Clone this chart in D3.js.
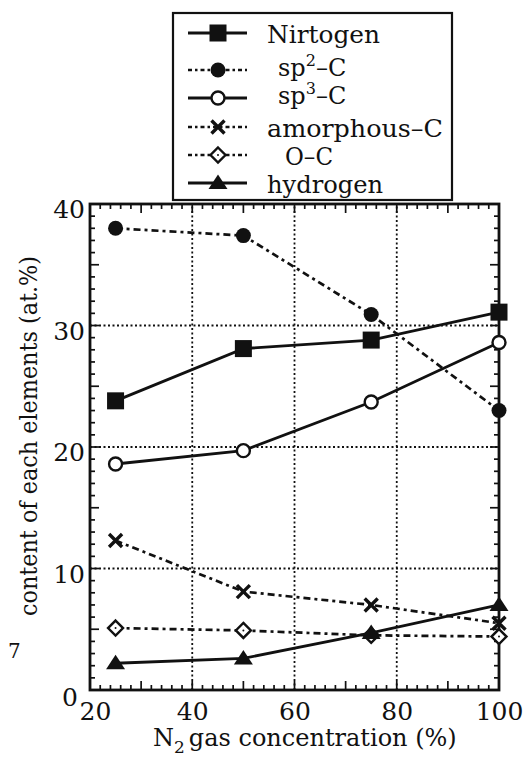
<!DOCTYPE html>
<html>
<head>
<meta charset="utf-8">
<script src="https://cdn.jsdelivr.net/npm/d3@7"></script>
<style>
  body { margin: 0; background: #fff; }
  svg text { font-family: "DejaVu Serif", "Liberation Serif", "Noto Serif", Times, serif; fill: #111; }
</style>
</head>
<body>
<svg id="chart" width="526" height="758"></svg>
<script>
// data
let conc = [25, 50, 75, 100];
let nitrogen = [23.8, 28.1, 28.8, 31.1];
let sp2C = [38.0, 37.4, 30.9, 23.0];
let sp3C = [18.6, 19.7, 23.7, 28.6];
let amorphousC = [12.3, 8.1, 7.0, 5.5];
let oC = [5.1, 4.9, 4.5, 4.4];
let hydrogen = [2.2, 2.6, 4.7, 7.0];

let seriesNames = ["Nirtogen", "sp2-C", "sp3-C", "amorphous-C", "O-C", "hydrogen"];
let seriesValues = [nitrogen, sp2C, sp3C, amorphousC, oC, hydrogen];
let seriesMarks = ["square", "dot", "circle", "cross", "diamond", "triangle"];
let seriesDashed = [false, true, false, true, true, false];

let xTicks = [20, 40, 60, 80, 100];
let yTicks = [0, 10, 20, 30, 40];

var svg = d3.select("#chart");

var x = d3.scaleLinear().domain([20, 100]).range([90, 499]);
var y = d3.scaleLinear().domain([0, 40]).range([690, 204]);

var dashDot = "7,4,3,4";
var serif = "DejaVu Serif, Liberation Serif, Noto Serif, serif";

// grid (dotted)
var grid = svg.append("g").attr("class", "grid");
grid.selectAll("line.gx")
    .data([40, 60, 80])
    .enter().append("line")
    .attr("x1", d => x(d)).attr("x2", d => x(d))
    .attr("y1", y(0)).attr("y2", y(40))
    .attr("stroke", "#111").attr("stroke-width", 1.8)
    .attr("stroke-dasharray", "2,2.5");
grid.selectAll("line.gy")
    .data([10, 20, 30])
    .enter().append("line")
    .attr("x1", x(20)).attr("x2", x(100))
    .attr("y1", d => y(d)).attr("y2", d => y(d))
    .attr("stroke", "#111").attr("stroke-width", 1.8)
    .attr("stroke-dasharray", "2,2.5");

// minor ticks, all four sides, pointing inward
let xMinor = d3.range(22, 100, 2);
let yMinor = d3.range(1, 40, 1);
function xLen(d){ return d % 10 === 0 ? 9 : 5; }
function yLen(d){ return d % 5 === 0 ? 9 : 5; }

var ticks = svg.append("g").attr("stroke", "#111").attr("stroke-width", 1.7);
ticks.selectAll("line.b").data(xMinor).enter().append("line")
    .attr("x1", d => x(d)).attr("x2", d => x(d))
    .attr("y1", y(0)).attr("y2", d => y(0) - xLen(d));
ticks.selectAll("line.t").data(xMinor).enter().append("line")
    .attr("x1", d => x(d)).attr("x2", d => x(d))
    .attr("y1", y(40)).attr("y2", d => y(40) + xLen(d));
ticks.selectAll("line.l").data(yMinor).enter().append("line")
    .attr("y1", d => y(d)).attr("y2", d => y(d))
    .attr("x1", x(20)).attr("x2", d => x(20) + yLen(d));
ticks.selectAll("line.r").data(yMinor).enter().append("line")
    .attr("y1", d => y(d)).attr("y2", d => y(d))
    .attr("x1", x(100)).attr("x2", d => x(100) - yLen(d));

// frame
svg.append("rect")
    .attr("x", x(20)).attr("y", y(40))
    .attr("width", x(100) - x(20)).attr("height", y(0) - y(40))
    .attr("fill", "none").attr("stroke", "#111").attr("stroke-width", 2.8);

// tick labels via axes
var xAxis = svg.append("g")
    .attr("transform", "translate(0," + y(0) + ")")
    .call(d3.axisBottom(x).tickValues(xTicks).tickSize(0).tickPadding(0));
xAxis.select(".domain").remove();
xAxis.selectAll("text").attr("font-size", 25).attr("dy", null)
    .attr("font-family", serif).attr("fill", "#111")
    .attr("y", 30)
    .attr("x", d => d === 20 ? 5 : 0);

var yAxis = svg.append("g")
    .attr("transform", "translate(" + x(20) + ",0)")
    .call(d3.axisLeft(y).tickValues(yTicks).tickSize(0).tickPadding(5));
yAxis.select(".domain").remove();
yAxis.selectAll("text").attr("font-size", 25)
    .attr("font-family", serif).attr("fill", "#111")
    .attr("dy", d => d === 0 ? "0.62em" : "0.55em")
    .attr("x", d => d === 0 ? -12 : -5);

// axis titles
var xt = svg.append("text")
    .attr("x", 153).attr("y", 746)
    .attr("font-size", 24);
xt.append("tspan").text("N");
xt.append("tspan").attr("font-size", 17).attr("dy", 7).text("2");
xt.append("tspan").attr("dy", -7).attr("dx", 4).text("gas concentration (%)");

svg.append("text")
    .attr("transform", "translate(37,436) rotate(-90)")
    .attr("text-anchor", "middle")
    .attr("font-size", 24)
    .attr("textLength", 360)
    .attr("lengthAdjust", "spacingAndGlyphs")
    .text("content of each elements (at.%)");

svg.append("text")
    .attr("x", 8).attr("y", 658)
    .attr("font-size", 20)
    .text("7");

// markers
function drawMark(g, kind, cx, cy) {
    if (kind === "square") {
        g.append("rect").attr("x", cx - 8.5).attr("y", cy - 8.5).attr("width", 17).attr("height", 17)
            .attr("fill", "#111");
    } else if (kind === "dot") {
        g.append("circle").attr("cx", cx).attr("cy", cy).attr("r", 7.5).attr("fill", "#111");
    } else if (kind === "circle") {
        g.append("circle").attr("cx", cx).attr("cy", cy).attr("r", 6.5)
            .attr("fill", "#fff").attr("stroke", "#111").attr("stroke-width", 2.4);
    } else if (kind === "cross") {
        g.append("path").attr("d", `M${cx-6.5},${cy-6.5}L${cx+6.5},${cy+6.5}M${cx-6.5},${cy+6.5}L${cx+6.5},${cy-6.5}`)
            .attr("stroke", "#111").attr("stroke-width", 3.4).attr("fill", "none");
    } else if (kind === "diamond") {
        g.append("path").attr("d", `M${cx},${cy-7.5}L${cx+7.5},${cy}L${cx},${cy+7.5}L${cx-7.5},${cy}Z`)
            .attr("fill", "#fff").attr("stroke", "#111").attr("stroke-width", 2.4);
        g.append("circle").attr("cx", cx).attr("cy", cy).attr("r", 1).attr("fill", "#111");
    } else if (kind === "triangle") {
        g.append("path").attr("d", `M${cx},${cy-8.5}L${cx+9.5},${cy+6}L${cx-9.5},${cy+6}Z`)
            .attr("fill", "#111");
    }
}

var line = d3.line().x(d => x(d[0])).y(d => y(d[1]));

// dashed series first, solid ones on top
let order = [1, 3, 4, 0, 2, 5];
order.forEach(function(i){
    let pts = conc.map((c, j) => [c, seriesValues[i][j]]);
    let g = svg.append("g").attr("class", "series");
    g.append("path")
        .attr("d", line(pts))
        .attr("fill", "none")
        .attr("stroke", "#111")
        .attr("stroke-width", seriesDashed[i] ? 2.7 : 2.8)
        .attr("stroke-dasharray", seriesDashed[i] ? dashDot : null);
    pts.forEach(p => drawMark(g, seriesMarks[i], x(p[0]), y(p[1])));
});

// legend
var leg = svg.append("g").attr("class", "legend");
leg.append("rect")
    .attr("x", 173).attr("y", 13).attr("width", 279).attr("height", 187)
    .attr("fill", "#fff").attr("stroke", "#111").attr("stroke-width", 2.2);

let legRowY = [33, 70, 98, 127, 155, 183];
let legTextX = [267, 278, 278, 267, 285, 267];
let legTextW = [113, 0, 0, 176, 48, 116];
seriesNames.forEach(function(name, i){
    let ry = legRowY[i];
    leg.append("line")
        .attr("x1", 188).attr("x2", 247).attr("y1", ry).attr("y2", ry)
        .attr("stroke", "#111").attr("stroke-width", seriesDashed[i] ? 2.4 : 2.8)
        .attr("stroke-dasharray", seriesDashed[i] ? "4,3,2.5,3" : null);
    drawMark(leg, seriesMarks[i], 218, ry);
    let t = leg.append("text").attr("x", legTextX[i]).attr("y", ry + 10).attr("font-size", 24);
    if (name === "sp2-C" || name === "sp3-C") {
        t.attr("y", ry + 6);
        t.append("tspan").text("sp");
        t.append("tspan").attr("font-size", 16).attr("dy", -10).text(name.charAt(2));
        t.append("tspan").attr("dy", 10).text("\u2013C");
    } else {
        t.text(name.replace("-", "\u2013"))
            .attr("textLength", legTextW[i])
            .attr("lengthAdjust", "spacingAndGlyphs");
    }
});
</script>
</body>
</html>
